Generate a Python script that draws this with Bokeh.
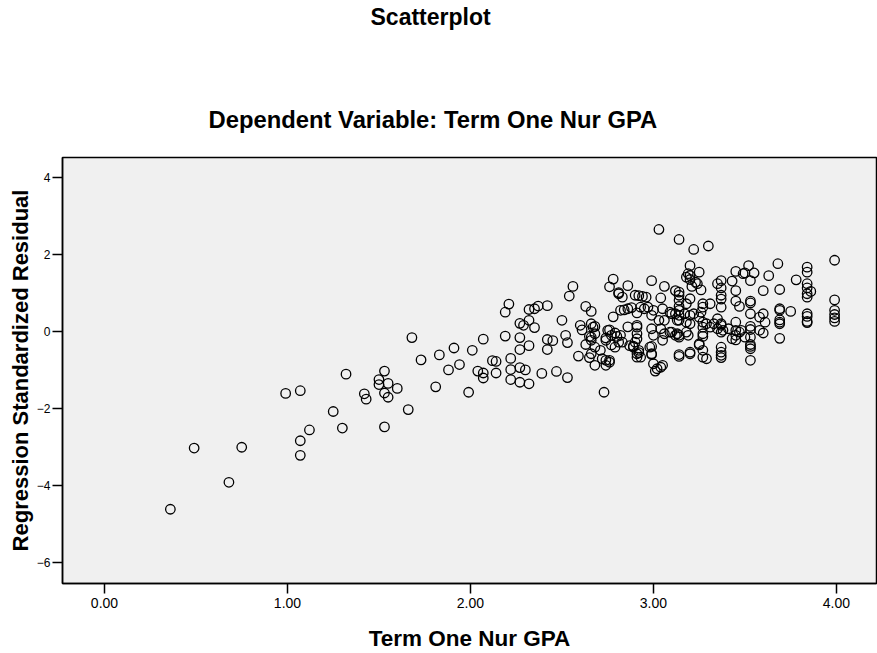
from bokeh.plotting import figure
from bokeh.models import FixedTicker, Title, Range1d, ColumnDataSource
from bokeh.embed import file_html
from bokeh.resources import INLINE

# ---- data ----
gpa_a = [0.36, 0.49, 0.68, 0.75, 0.99, 1.07, 1.07, 1.07, 1.12, 1.25, 1.30, 1.32, 1.42, 1.43, 1.50, 1.50, 1.53, 1.55, 1.53, 1.55,
         1.60, 1.53, 1.66, 1.68, 1.73, 1.81, 1.83]
res_a = [-4.62, -3.03, -3.92, -3.01, -1.61, -1.54, -2.84, -3.22, -2.56, -2.08, -2.51, -1.11, -1.62, -1.76, -1.25, -1.38, -1.03, -1.35, -1.60, -1.71,
         -1.48, -2.48, -2.03, -0.16, -0.74, -1.44, -0.61]

gpa_b = [1.88, 1.91, 1.94, 1.99, 2.01, 2.04, 2.07, 2.07, 2.07, 2.12,
         2.14, 2.14, 2.19, 2.19, 2.21, 2.22, 2.22, 2.22, 2.27, 2.29,
         2.27, 2.27, 2.27, 2.30, 2.27, 2.32, 2.32, 2.32, 2.32, 2.35,
         2.35, 2.37, 2.42, 2.39, 2.42, 2.42, 2.45, 2.47, 2.50, 2.52,
         2.53, 2.53, 2.56, 2.54, 2.59]
res_b = [-1.00, -0.43, -0.86, -1.58, -0.49, -1.03, -0.20, -1.08, -1.21, -0.76,
         -0.78, -1.08, -0.12, 0.50, 0.71, -0.70, -0.99, -1.25, 0.21, 0.16,
         -0.16, -0.47, -0.94, -1.00, -1.32, -1.36, -0.37, 0.29, 0.57, 0.10,
         0.59, 0.66, 0.67, -1.09, -0.21, -0.47, -0.24, -1.04, 0.29, -0.10,
         -0.29, -1.20, 1.17, 0.92, -0.64]

gpa_c = [2.60, 2.61, 2.63, 2.66, 2.63, 2.65, 2.65, 2.66, 2.68, 2.68,
         2.68, 2.73, 2.72, 2.74, 2.76, 2.76, 2.76, 2.78, 2.78, 2.77,
         2.80, 2.81, 2.83, 2.82, 2.84, 2.86, 2.86, 2.83, 2.90, 2.92,
         2.91, 2.91, 2.91, 2.91, 2.92, 2.89, 2.96, 2.88, 2.86, 2.93,
         2.95, 2.97, 2.99, 2.66, 2.67, 2.68, 2.66, 2.75, 2.77, 2.74,
         2.79, 2.82, 2.81, 2.91, 2.91, 2.90, 2.89, 2.91, 2.93, 2.92,
         2.99, 2.98, 2.99, 2.66, 2.74, 2.76, 2.74, 2.71, 2.79, 2.87,
         2.81, 2.94]
res_c = [0.16, 0.04, 0.65, 0.52, -0.34, -0.13, -0.68, -0.23, 0.13, -0.88,
         -0.41, -1.58, -0.71, -0.17, 0.04, -0.75, 1.16, 1.36, 0.38, -0.35,
         -0.13, 1.01, 0.89, 0.55, 0.56, 1.19, 0.12, -0.28, 0.94, 0.93,
         0.48, 0.11, -0.19, -0.67, -0.55, -0.38, 0.89, 0.62, 0.59, 0.63,
         0.59, 0.63, 0.42, 0.20, 0.11, -0.06, -0.15, 0.03, -0.10, -0.23,
         -0.04, -0.10, -0.28, 0.16, -0.06, -0.28, -0.41, -0.58, -0.67, -0.49,
         0.07, -0.41, -0.58, -0.58, -0.75, -0.80, -0.88, -0.49, -0.41, -0.37,
         0.98, 0.91]

gpa_d = [3.00, 3.05, 3.12, 3.13, 3.06, 3.03, 3.00, 3.04, 3.06, 3.05,
         3.09, 3.00, 3.02, 3.04, 3.05, 3.04, 3.03, 3.14, 3.22, 3.30,
         2.99, 3.06, 3.12, 2.99, 2.99, 3.01, 3.14, 3.14, 3.14, 3.14,
         3.14, 3.14, 3.14, 3.14, 3.14, 3.14, 3.14, 3.10, 3.09, 3.10,
         3.12, 3.13, 3.20, 3.20, 3.20, 3.25, 3.23, 3.21, 3.26, 3.20,
         3.20, 3.20, 3.20, 3.20, 3.19, 3.18, 3.24, 3.18, 3.17, 3.22,
         3.18, 3.18, 3.19, 3.27, 3.27, 3.27, 3.27, 3.27, 3.27, 3.25,
         3.27, 3.31, 3.27, 3.26, 3.25, 3.29, 3.31, 3.33, 3.29, 3.25]
res_d = [0.55, 0.59, 0.46, 0.29, 0.29, 0.29, -0.10, 0.07, -0.06, -0.23,
         -0.02, -0.84, -0.97, -0.93, -0.88, 0.87, 2.65, 2.39, 2.13, 2.22,
         1.32, 1.17, 1.06, -0.39, -0.60, -1.03, 0.94, 0.81, 0.65, 0.55,
         0.42, 0.29, -0.10, -0.15, -0.60, -0.65, 1.02, 0.46, 0.50, -0.02,
         -0.10, -0.06, 1.71, 1.45, 1.35, 1.54, 1.28, 1.17, 1.08, 0.85,
         0.42, 0.20, -0.54, -0.58, 1.50, 1.41, 1.24, 0.72, 0.46, 0.46,
         0.24, -0.02, -0.10, 0.72, 0.24, 0.11, -0.06, -0.49, -0.67, -0.35,
         -0.13, 0.72, 0.63, 0.50, 0.37, 0.20, 0.11, 0.20, -0.71, -0.32]

gpa_e = [3.37, 3.37, 3.37, 3.37, 3.37, 3.35, 3.37, 3.37, 3.37, 3.37,
         3.37, 3.37, 3.35, 3.35, 3.38, 3.37, 3.45, 3.43, 3.45, 3.45,
         3.47, 3.45, 3.45, 3.45, 3.45, 3.47, 3.50, 3.50, 3.49, 3.41,
         3.43, 3.48, 3.52, 3.55, 3.53, 3.53, 3.53, 3.53, 3.53, 3.53,
         3.53, 3.53, 3.53, 3.53, 3.53, 3.58, 3.58, 3.63, 3.60, 3.60,
         3.61, 3.60, 3.68, 3.69, 3.69, 3.69, 3.69, 3.69, 3.69, 3.69,
         3.78, 3.75, 3.84, 3.84, 3.84, 3.84, 3.86, 3.84, 3.84, 3.84,
         3.84, 3.84, 3.84, 3.99, 3.99, 3.99, 3.99, 3.99, 3.99]
res_e = [1.32, 1.13, 0.94, 0.84, 0.63, 1.24, 0.16, -0.02, -0.41, -0.54,
         -0.62, -0.68, 0.33, 0.07, 0.03, 0.20, 1.56, 1.31, 1.06, 0.79,
         0.65, 0.24, 0.03, -0.10, -0.22, -0.02, -0.15, 1.52, 1.50, 0.07,
         -0.19, 0.03, 1.71, 1.52, 1.32, 0.79, 0.74, 0.46, 0.13, 0.05,
         -0.34, -0.39, -0.75, -0.15, -0.45, 0.03, 0.37, 1.45, 1.06, 0.46,
         0.24, -0.04, 1.76, 1.09, 0.59, 0.55, 0.30, 0.24, 0.20, -0.18,
         1.34, 0.52, 1.67, 1.54, 1.24, 1.13, 1.04, 0.98, 0.89, 0.46,
         0.39, 0.26, 0.23, 1.85, 0.82, 0.55, 0.44, 0.35, 0.26]

x_ticks = [0, 1, 2, 3, 4]
x_tick_labels = ["0.00", "1.00", "2.00", "3.00", "4.00"]
y_ticks = [-6, -4, -2, 0, 2, 4]

main_title = "Scatterplot"
sub_title = "Dependent Variable: Term One Nur GPA"
x_label = "Term One Nur GPA"
y_label = "Regression Standardized Residual"

gpa = gpa_a + gpa_b + gpa_c + gpa_d + gpa_e
resid = res_a + res_b + res_c + res_d + res_e
src = ColumnDataSource(dict(gpa=gpa, resid=resid))

FONT = "Liberation Sans"

p = figure(width=877, height=653, output_backend="svg", toolbar_location=None,
           title=None,
           x_range=Range1d(-0.2295, 4.219), y_range=Range1d(-6.55, 4.52),
           min_border_left=62, min_border_right=1,
           min_border_top=157, min_border_bottom=70)

p.background_fill_color = "#F0F0F0"
p.border_fill_color = "white"
p.outline_line_color = "black"
p.outline_line_width = 1.5
p.grid.visible = False

p.scatter("gpa", "resid", source=src, marker="circle", size=9.5,
          fill_color=None, line_color="black", line_width=1.3)

# axes
p.xaxis.ticker = FixedTicker(ticks=x_ticks)
p.xaxis.major_label_overrides = {t: l for t, l in zip(x_ticks, x_tick_labels)}
p.yaxis.ticker = FixedTicker(ticks=y_ticks)

for ax in (p.xaxis, p.yaxis):
    ax.axis_line_color = "black"
    ax.axis_line_width = 1.5
    ax.major_tick_line_color = "black"
    ax.major_tick_line_width = 1.5
    ax.major_tick_out = 10
    ax.major_tick_in = 0
    ax.minor_tick_line_color = None
    ax.major_label_text_font = FONT
    ax.major_label_text_color = "black"
    ax.axis_label_text_font = FONT
    ax.axis_label_text_font_style = "bold"
    ax.axis_label_text_color = "black"

p.xaxis.major_label_text_font_size = "14px"
p.yaxis.major_label_text_font_size = "12px"
p.xaxis.axis_label_text_font_size = "22.5px"
p.yaxis.axis_label_text_font_size = "22px"
p.xaxis.major_label_standoff = 4
p.yaxis.major_label_standoff = 2
p.xaxis.axis_label = x_label
p.yaxis.axis_label = y_label
p.xaxis.axis_label_standoff = 15
p.yaxis.axis_label_standoff = 1

# titles (first added sits closest to the frame); a blank spacer title
# separates the two heading lines
t_sub = Title(text=sub_title, align="left", offset=146, standoff=50,
              text_font=FONT, text_font_size="23.8px", text_font_style="bold",
              text_color="black")
t_gap = Title(text=" ", standoff=46, text_font=FONT, text_font_size="1px")
t_main = Title(text=main_title, align="left", offset=308, standoff=0,
               text_font=FONT, text_font_size="23px", text_font_style="bold",
               text_color="black")
p.add_layout(t_sub, "above")
p.add_layout(t_gap, "above")
p.add_layout(t_main, "above")

open("out.html", "w").write(file_html(p, INLINE))
